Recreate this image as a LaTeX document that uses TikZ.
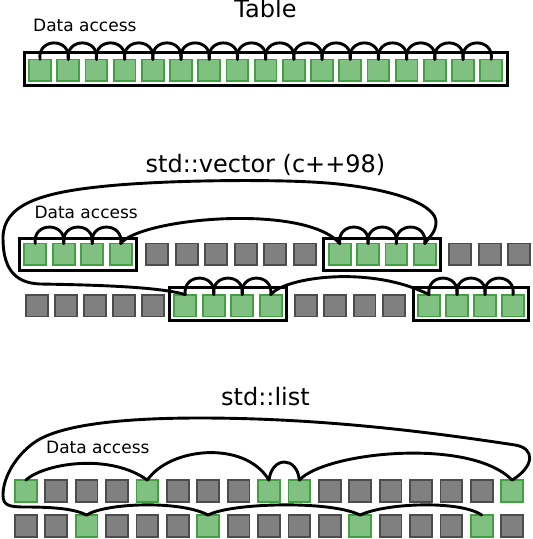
\documentclass[tikz,border=0pt]{standalone}
\usepackage{fontspec}
\setmainfont{DejaVu Sans}
\usetikzlibrary{fit}
\definecolor{sqgreen}{RGB}{128,192,128}
\definecolor{sqgreenb}{RGB}{66,160,66}
\definecolor{sqgray}{RGB}{128,128,128}
\definecolor{sqgrayb}{RGB}{76,76,76}
\begin{document}
\begin{tikzpicture}[x=1pt,y=-1pt,
  gsq/.style={draw=sqgreenb, fill=sqgreen, line width=1.8pt, minimum size=21.8pt, inner sep=0pt, outer sep=0pt},
  ksq/.style={draw=sqgrayb, fill=sqgray, line width=1.8pt, minimum size=21.8pt, inner sep=0pt, outer sep=0pt},
  frame/.style={draw, line width=3pt, inner xsep=5pt, inner ysep=5.3pt, outer sep=0pt},
  link/.style={line width=2.9pt, line cap=round, line join=round},
  hop/.style={link},
  title/.style={font=\fontsize{24}{28}\selectfont, inner sep=0pt, anchor=base},
  lab/.style={font=\fontsize{17}{20}\selectfont, inner sep=0pt, anchor=base west},
]
\useasboundingbox (0,0) rectangle (533,539);

% ---------------- Table ----------------
\node[title] (ttab) at (265.5,17) {Table};
\node[lab] (dtab) at (33,31.6) {Data access};
\foreach \i in {0,...,16} \node[gsq] (t\i) at ({40.05+28.2*\i},70.3) {};
\node[frame, fit=(t0)(t16), yshift=1.5pt] (tbox) {};
\foreach \i in {0,...,15}{
  \pgfmathtruncatemacro\j{\i+1}
  \draw[hop] (t\i.north) .. controls +(-3,-22) and +(3,-22) .. (t\j.north);
}

% ---------------- std::vector ----------------
\node[title] (tvec) at (265.5,172) {std::vector (c++98)};
\node[lab] (dvec) at (34.3,218.3) {Data access};
% row 1
\foreach \i in {0,...,3} \node[gsq] (va\i) at ({35.25+28.5*\i},254.45) {};
\foreach \i in {0,...,5} \node[ksq] (ka\i) at ({157.25+29.5*\i},254.45) {};
\foreach \i in {0,...,3} \node[gsq] (vb\i) at ({339.75+28.33*\i},254.45) {};
\foreach \i in {0,...,2} \node[ksq] (kb\i) at ({460.25+29.5*\i},254.45) {};
% row 2
\foreach \i in {0,...,4} \node[ksq] (kc\i) at ({37.25+29*\i},305.5) {};
\foreach \i in {0,...,3} \node[gsq] (vc\i) at ({185.25+28.5*\i},305.5) {};
\foreach \i in {0,...,3} \node[ksq] (kd\i) at ({305.75+29.4*\i},305.5) {};
\foreach \i in {0,...,3} \node[gsq] (vd\i) at ({429.05+28*\i},305.5) {};
% frames
\node[frame, fit=(va0)(va3)] (boxa) {};
\node[frame, fit=(vb0)(vb3)] (boxb) {};
\node[frame, fit=(vc0)(vc3), yshift=1.5pt] (boxc) {};
\node[frame, fit=(vd0)(vd3), yshift=1.5pt] (boxd) {};
% hops inside frames
\foreach \n in {va,vb,vc,vd}{
  \foreach \i in {0,1,2}{
    \pgfmathtruncatemacro\j{\i+1}
    \draw[hop] (\n\i.north) .. controls +(-3,-22) and +(3,-22) .. (\n\j.north);
  }
}
% long connectors
\draw[link] (va3.north) .. controls (140,218) and (305,203) .. (vb0.north);
\draw[link] (vb3.north) .. controls (430,236) and (436,232) .. (436,222)
  .. controls (436,206) and (400,190) .. (333,183.5)
  .. controls (280,178.5) and (160,180) .. (100,186.7)
  .. controls (40,193) and (3,205) .. (3,238)
  .. controls (3,265) and (12,283) .. (40,284)
  .. controls (100,285) and (160,287) .. (vc0.north);
\draw[link] (vc3.north) .. controls (285,277) and (370,265) .. (vd0.north);

% ---------------- std::list ----------------
\node[title] (tlist) at (265.5,405.5) {std::list};
\node[lab] (dlist) at (46,453.3) {Data access};
\foreach \i in {0,4,8,9,16} \node[gsq] (l\i) at ({25.75+30.4*\i},491) {};
\foreach \i in {1,2,3,5,6,7,10,11,12,13,14,15} \node[ksq] (l\i) at ({25.75+30.4*\i},491) {};
\foreach \i in {2,6,11,15} \node[gsq] (m\i) at ({25.75+30.4*\i},526) {};
\foreach \i in {0,1,3,4,5,7,8,9,10,12,13,14,16} \node[ksq] (m\i) at ({25.75+30.4*\i},526) {};
% connectors row 1
\draw[link] (l0.north) .. controls (45,463) and (110,453) .. (l4.north);
\draw[link] (l4.north) .. controls (170,447) and (245,440) .. (l8.north);
\draw[link] (l8.north) .. controls (272,456) and (297,456) .. (l9.north);
\draw[link] (l9.north) .. controls (325,452) and (470,437) .. (l16.north);
% big loop to row 2
\draw[link] (l16.north) .. controls (535,466) and (535,448) .. (515,445)
  .. controls (430,432) and (320,418) .. (200,418)
  .. controls (120,418) and (60,425) .. (35,442)
  .. controls (15,456) and (3,478) .. (3,495)
  .. controls (3,505) and (8,507) .. (25,507)
  .. controls (55,507) and (75,509) .. (m2.north);
% connectors row 2
\draw[link] (m2.north) .. controls (105,503) and (180,500) .. (m6.north);
\draw[link] (m6.north) .. controls (230,503) and (330,500) .. (m11.north);
\draw[link] (m11.north) .. controls (385,503) and (460,500) .. (m15.north);
\end{tikzpicture}
\end{document}
